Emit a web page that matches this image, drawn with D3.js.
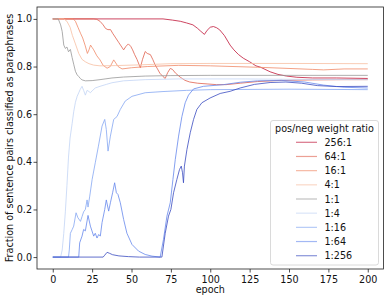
<!DOCTYPE html>
<html><head><meta charset="utf-8">
<script src="https://cdn.jsdelivr.net/npm/d3@7"></script>
<style>body{margin:0;background:#fff}svg{display:block;font-family:"DejaVu Sans",sans-serif}</style>
</head><body><svg id="c" width="390" height="301"></svg>
<script>
const labels = ["256:1","64:1","16:1","4:1","1:1","1:4","1:16","1:64","1:256"];
const colors = ["#c0183a","#e0604e","#f08a68","#f7bfa2","#999999","#c3d4f5","#86a8f2","#6688ec","#3b4cc0"];
const xTicks = [0,25,50,75,100,125,150,175,200];
const yTicks = [0,0.2,0.4,0.6,0.8,1.0];

const s256_1 = [[0,1],[70,1],[76,0.995],[81,0.99],[85,0.983],[89,0.975],[92,0.96],[94,0.948],[96.3,0.935],[98,0.952],[100,0.965],[102,0.968],[104,0.963],[106,0.954],[109,0.93],[112.6,0.89],[115,0.87],[118,0.85],[121,0.835],[125,0.82],[129,0.803],[132,0.797],[138,0.778],[143,0.767],[148.5,0.76],[155,0.755],[165,0.752],[180,0.752],[200,0.75]];
const s64_1 = [[0,1],[26,1],[28,0.998],[30,0.99],[32,0.975],[33.5,0.96],[35,0.955],[36.7,0.955],[38,0.94],[40,0.92],[42,0.9],[43,0.89],[45,0.87],[46.5,0.885],[48,0.895],[49.5,0.885],[50.7,0.87],[52,0.85],[53.5,0.83],[55.6,0.795],[57,0.83],[58.7,0.863],[60,0.855],[62,0.85],[63.5,0.83],[65,0.807],[66.5,0.79],[68,0.772],[70,0.758],[71.4,0.75],[73,0.775],[74.6,0.792],[76,0.788],[78,0.772],[81,0.755],[84,0.742],[87,0.735],[92,0.73],[98,0.727],[104,0.724],[110,0.724],[119,0.73],[130,0.737],[145,0.742],[165,0.744],[185,0.745],[200,0.745]];
const s16_1 = [[0,1],[13,1],[14.4,0.99],[16,0.965],[17.6,0.94],[19,0.92],[20.5,0.89],[22,0.855],[23,0.87],[24,0.89],[25,0.88],[26,0.87],[28,0.845],[30,0.828],[32,0.805],[34.5,0.793],[36.5,0.8],[38.7,0.828],[40,0.815],[41.5,0.8],[44,0.79],[50,0.795],[60,0.8],[80,0.805],[100,0.803],[130,0.797],[150,0.792],[165,0.788],[172,0.786],[185,0.79],[200,0.79]];
const s4_1 = [[0,1],[7,1],[9,0.99],[11,0.965],[12.5,0.93],[14.4,0.895],[16.5,0.855],[18.6,0.83],[20.7,0.82],[23,0.812],[26,0.806],[30,0.803],[40,0.804],[55,0.807],[75,0.812],[100,0.813],[150,0.813],[200,0.812]];
const s1_1 = [[0,1],[3.5,1],[5,0.975],[6,0.947],[7,0.89],[8,0.876],[9,0.882],[10,0.862],[11.2,0.872],[12.3,0.838],[13.3,0.81],[14.4,0.78],[15.5,0.765],[16.5,0.758],[17.5,0.75],[18.6,0.744],[20.7,0.74],[25,0.741],[30,0.745],[37.6,0.752],[45,0.756],[58.7,0.76],[75,0.762],[100,0.763],[150,0.763],[200,0.763]];
const s1_4 = [[0,0],[5,0],[6,0.03],[7,0.1],[8,0.19],[9,0.3],[10,0.42],[11,0.5],[12.3,0.56],[13.3,0.61],[14.4,0.65],[15.5,0.675],[16.5,0.69],[17.5,0.705],[18.6,0.717],[19.6,0.7],[20.7,0.68],[21.8,0.7],[23,0.695],[23.9,0.69],[25,0.698],[27,0.71],[30,0.717],[34,0.725],[37.6,0.732],[45,0.74],[58.7,0.745],[80,0.748],[120,0.748],[160,0.746],[200,0.745]];
const s1_16 = [[0,0],[10,0],[10.5,0.03],[11.2,0.1],[12.3,0.115],[13.3,0.13],[14.8,0.186],[16,0.165],[17.6,0.15],[18.6,0.17],[19.6,0.19],[20.7,0.2],[21.8,0.24],[22.4,0.21],[23.5,0.256],[25,0.326],[27,0.396],[29,0.466],[31.3,0.55],[33,0.578],[34,0.536],[35.1,0.445],[36.6,0.508],[38.7,0.578],[40.8,0.59],[42.9,0.62],[46,0.655],[50.3,0.675],[58.7,0.69],[70,0.695],[85,0.7],[100,0.703],[150,0.705],[200,0.703]];
const s1_64 = [[0,0],[16.5,0],[17.1,0.06],[18.6,0.088],[19.6,0.116],[20.7,0.11],[22.4,0.175],[23.9,0.13],[26,0.088],[27,0.1],[28.1,0.08],[29.2,0.095],[30.2,0.088],[31.3,0.145],[33,0.2],[34,0.24],[35.5,0.193],[36.6,0.228],[38,0.27],[39.3,0.312],[40.4,0.27],[41.4,0.263],[42.9,0.228],[45,0.158],[47.1,0.1],[50.3,0.053],[54.5,0.025],[58.7,0.011],[63,0.004],[68.2,0],[70.3,0.074],[72.5,0.172],[74.6,0.228],[76.3,0.326],[77.8,0.41],[79.9,0.508],[82,0.59],[84.1,0.648],[86.2,0.68],[89.4,0.706],[95.7,0.717],[108.4,0.724],[119,0.734],[130,0.74],[145,0.742],[160,0.735],[172,0.722],[185,0.713],[200,0.71]];
const s1_256 = [[0,0],[32,0],[33,0.008],[34.5,0.02],[36,0.016],[38,0.01],[42,0.005],[48,0.002],[55,0],[69.3,0],[71.4,0.1],[73.5,0.172],[75,0.2],[76.7,0.27],[78.8,0.326],[80.5,0.368],[81.6,0.382],[82.4,0.354],[83,0.312],[83.6,0.382],[85.2,0.452],[87.3,0.522],[89.4,0.578],[91.5,0.62],[94.7,0.648],[99.9,0.668],[106.3,0.687],[112.6,0.696],[119,0.71],[128,0.725],[138,0.733],[148,0.735],[158,0.73],[168,0.72],[180,0.716],[200,0.717]];
const series = [s256_1,s64_1,s16_1,s4_1,s1_1,s1_4,s1_16,s1_64,s1_256];

const L=37,R=383.5,T=7,B=269;
const svg=d3.select("#c");
const x=d3.scaleLinear().domain([-10,210]).range([L,R]);
const y=d3.scaleLinear().domain([-0.05,1.05]).range([B,T]);
const fs=9.6;

const line=d3.line().x(d=>x(d[0])).y(d=>y(d[1]));
svg.append("g").selectAll("path").data(series).join("path")
  .attr("d",line).attr("fill","none")
  .attr("stroke",(d,i)=>colors[i]).attr("stroke-width",1).attr("stroke-opacity",0.8);

const gx=svg.append("g").attr("transform",`translate(0,${B})`)
  .call(d3.axisBottom(x).tickValues(xTicks).tickFormat(d3.format("d")).tickSize(3.5).tickPadding(3.2));
const gy=svg.append("g").attr("transform",`translate(${L},0)`)
  .call(d3.axisLeft(y).tickValues(yTicks).tickFormat(d3.format(".1f")).tickSize(3.5).tickPadding(1.5));
[gx,gy].forEach(g=>{g.select(".domain").remove();
  g.selectAll("text").attr("font-size",fs).attr("font-family","DejaVu Sans").attr("fill","#111");
  g.selectAll("line").attr("stroke","#222").attr("stroke-width",0.8);});

svg.append("rect").attr("x",L).attr("y",T).attr("width",R-L).attr("height",B-T)
  .attr("fill","none").attr("stroke","#222").attr("stroke-width",0.8);

svg.append("text").attr("x",(L+R)/2).attr("y",293).attr("text-anchor","middle")
  .attr("font-size",fs).attr("fill","#111").text("epoch");
svg.append("text").attr("transform",`translate(12.7,${(T+B)/2}) rotate(-90)`).attr("text-anchor","middle")
  .attr("font-size",fs).attr("fill","#111").text("Fraction of sentence pairs classified as paraphrases");

const lg=svg.append("g");
lg.append("rect").attr("x",270.5).attr("y",120.5).attr("width",108).attr("height",144.5).attr("rx",2.5)
  .attr("fill","#fff").attr("fill-opacity",0.8).attr("stroke","#d0d0d0").attr("stroke-width",0.8);
lg.append("text").attr("x",324.5).attr("y",131.6).attr("text-anchor","middle").attr("font-size",fs).attr("fill","#111").text("pos/neg weight ratio");
const ly=d3.scaleLinear().domain([0,8]).range([142.3,255.7]);
labels.forEach((lab,i)=>{
  lg.append("line").attr("x1",296).attr("x2",317).attr("y1",ly(i)).attr("y2",ly(i))
    .attr("stroke",colors[i]).attr("stroke-width",1.2).attr("stroke-opacity",0.6);
  lg.append("text").attr("x",324.5).attr("y",ly(i)+3.5).attr("font-size",fs).attr("fill","#111").text(lab);
});
</script></body></html>
